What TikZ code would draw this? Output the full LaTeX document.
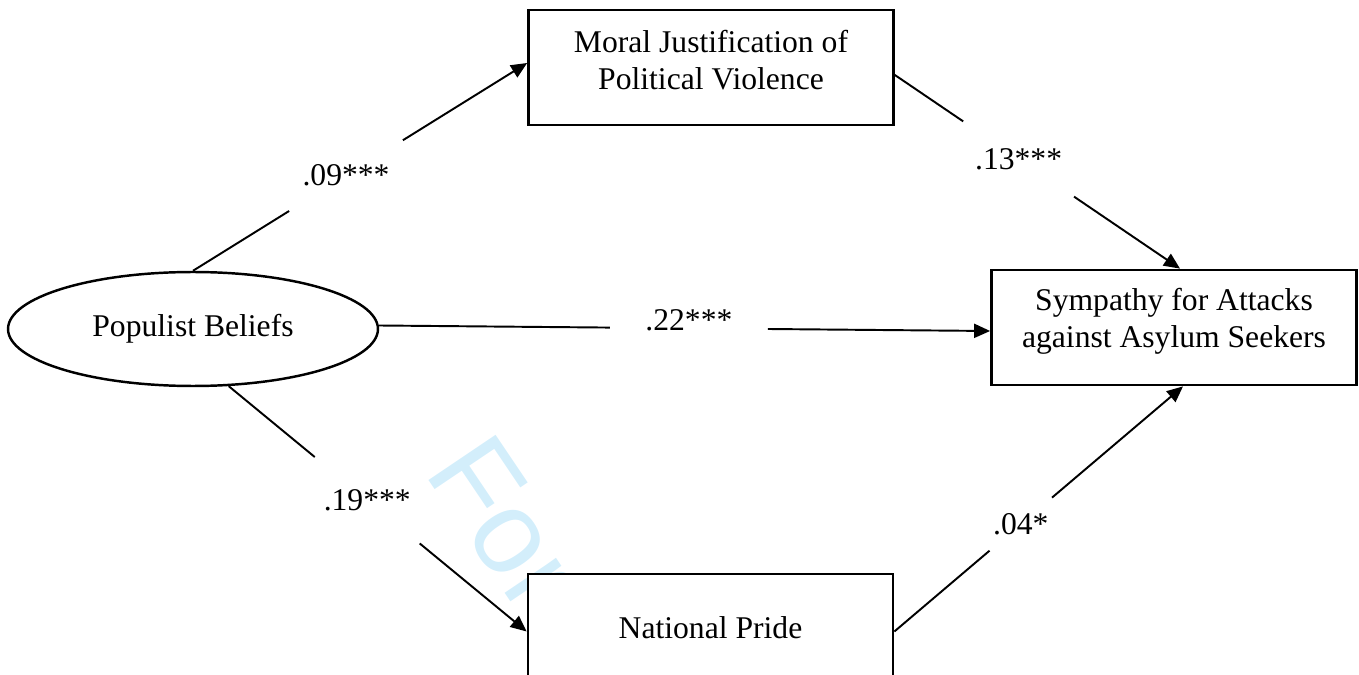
\documentclass[tikz,border=0pt]{standalone}
\usepackage{fontspec}
\setmainfont{Liberation Serif}
\newfontfamily\wmfont{Liberation Sans}
\usetikzlibrary{shapes.geometric,arrows.meta}

\definecolor{wmcyan}{RGB}{211,238,251}

\tikzset{
  varbox/.style={draw,line width=1.6pt,fill=white,minimum width=7.3cm,minimum height=2.3cm,inner sep=0pt},
  latent/.style={draw,ellipse,line width=1.4pt,fill=white,minimum width=7.4cm,minimum height=2.28cm,inner sep=0pt},
  coef/.style={circle,inner sep=0pt,outer sep=0pt},
  link/.style={line width=1.1pt},
  arr/.style={link,-{Triangle[length=0.32cm,width=0.28cm]}}
}

\begin{document}
\begin{tikzpicture}[x=0.02cm,y=-0.02cm,font=\fontsize{18}{21}\selectfont]

  \useasboundingbox (0,0) rectangle (1359,675);
  \clip (0,0) rectangle (1359,675);

  % watermark
  \node[wmcyan,rotate=-56,anchor=base west,inner sep=0pt,font=\wmfont\fontsize{67}{67}\selectfont] (wm) at (423,472) {For};

  \node[latent] (pop) at (193,329) {Populist Beliefs};
  \node[varbox,label={[align=center,yshift=0.15cm]center:{Moral Justification of\\Political Violence}}] (mjpv) at (711,67.5) {};
  \node[varbox,label={[align=center,yshift=0.13cm]center:{Sympathy for Attacks\\against Asylum Seekers}}] (sym) at (1174,327.5) {};
  \node[varbox,label={[yshift=0.07cm]center:National Pride}] (nat) at (710.5,631.5) {};

  % coefficients sit in the gaps of the paths
  \path (pop.north) -- node[coef,minimum size=2.68cm,pos=0.458] (c09) {.09***} ([yshift=0.09cm]mjpv.west);
  \path ([yshift=-0.15cm]mjpv.east) -- node[coef,minimum size=2.68cm,pos=0.434] (c13) {.13***} ([xshift=0.12cm]sym.north);
  \path ([yshift=0.07cm]pop.east) -- node[coef,minimum size=3.16cm,pos=0.507,text depth=0.32cm] (c22) {.22***} ([yshift=-0.07cm]sym.west);
  \path (pop.-58) -- node[coef,minimum size=2.72cm,pos=0.465] (c19) {.19***} (nat.west);
  \path (nat.east) -- node[coef,minimum size=1.64cm,pos=0.438] (c04) {.04*} ([xshift=0.18cm]sym.south);

  \draw[link] (pop.north) -- (c09);
  \draw[arr] (c09) -- ([yshift=0.09cm]mjpv.west);
  \draw[link] ([yshift=-0.15cm]mjpv.east) -- (c13);
  \draw[arr] (c13) -- ([xshift=0.12cm]sym.north);
  \draw[link] ([yshift=0.07cm]pop.east) -- (c22);
  \draw[arr] (c22) -- ([yshift=-0.07cm]sym.west);
  \draw[link] (pop.-58) -- (c19);
  \draw[arr] (c19) -- (nat.west);
  \draw[link] (nat.east) -- (c04);
  \draw[arr] (c04) -- ([xshift=0.18cm]sym.south);

\end{tikzpicture}
\end{document}
